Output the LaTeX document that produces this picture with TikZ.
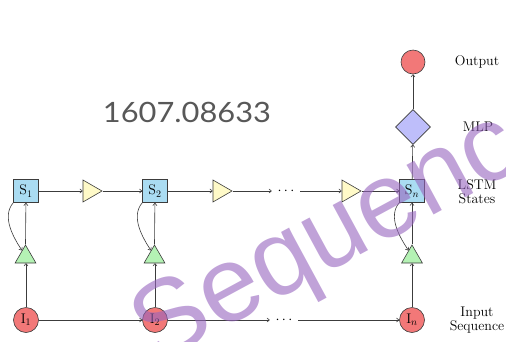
\documentclass[tikz,border=0pt]{standalone}
\usepackage{fontspec}
\newfontfamily\titlefont{Lato}
\newfontfamily\wmfont{Liberation Sans}
\usetikzlibrary{shapes.geometric,calc,arrows.meta}
\definecolor{boxblue}{RGB}{170,220,242}
\definecolor{inred}{RGB}{242,120,120}
\definecolor{gfill}{RGB}{180,242,180}
\definecolor{yfill}{RGB}{255,250,200}
\definecolor{mfill}{RGB}{190,190,250}
\definecolor{edge}{RGB}{60,60,60}
\definecolor{titlegray}{RGB}{88,88,88}
\definecolor{wmpurple}{RGB}{150,100,190}
\begin{document}
\begin{tikzpicture}[x=1pt,y=-1pt,
  every node/.style={line width=0.6pt, draw=edge},
  stbox/.style={rectangle, fill=boxblue, minimum width=25pt, minimum height=23pt, inner sep=0pt, font=\fontsize{14}{16}\selectfont},
  inp/.style={circle, fill=inred, minimum size=25pt, inner sep=0pt, font=\fontsize{14}{16}\selectfont},
  gtri/.style={regular polygon, regular polygon sides=3, minimum size=24pt, inner sep=0pt, fill=gfill},
  ytri/.style={regular polygon, regular polygon sides=3, regular polygon rotate=-90, minimum size=25.4pt, inner sep=0pt, fill=yfill},
  mlpnode/.style={diamond, fill=mfill, minimum width=35pt, minimum height=35pt, inner sep=0pt},
  outnode/.style={circle, fill=inred, minimum size=24pt, inner sep=0pt},
  dotsnode/.style={draw=none, inner sep=2pt, minimum width=28pt, font=\fontsize{14}{16}\selectfont},
  lbl/.style={draw=none, align=center, font=\fontsize{14}{16}\selectfont},
  conn/.style={draw=edge, line width=0.6pt, -{To[length=3pt,width=4.5pt]}}
]
\useasboundingbox (0,0) rectangle (506,341);

% states
\node[stbox] (S1) at (26,191) {S$_1$};
\node[stbox] (S2) at (155,191) {S$_2$};
\node[stbox] (Sn) at (412,191) {S$_n$};
% inputs
\node[inp] (I1) at (26,320) {I$_1$};
\node[inp] (I2) at (155,320) {I$_2$};
\node[inp] (In) at (412,320) {I$_n$};
% green triangles
\node[gtri] (G1) at (25.5,257) {};
\node[gtri] (G2) at (154.5,257) {};
\node[gtri] (Gn) at (412,257) {};
% yellow triangles
\node[ytri] (Y1) at (89.3,191) {};
\node[ytri] (Y2) at (219.3,191) {};
\node[ytri] (Y3) at (348.3,191) {};
% dots
\node[dotsnode] (D1) at (286,191) {$\cdots$};
\node[dotsnode] (D2) at (284,320) {$\cdots$};
% MLP and output
\node[mlpnode] (M) at (413,127) {};
\node[outnode] (O) at (413,62) {};

% labels
\node[lbl] (LO) at (477,62) {Output};
\node[lbl] (LM) at (478,127) {MLP};
\node[lbl] (LS) at (477,192) {LSTM\\[-2pt]States};
\node[lbl] (LI) at (477,320) {Input\\[-2pt]Sequence};

% top chain
\draw[conn] (S1) -- (Y1);
\draw[conn] (Y1) -- (S2);
\draw[conn] (S2) -- (Y2);
\draw[conn] (Y2) -- (D1);
\draw[conn] (D1) -- (Y3);
\draw[conn] (Y3) -- (Sn);
% bottom chain
\draw[conn] (I1) -- (I2);
\draw[conn] (I2) -- (D2);
\draw[conn] (D2) -- (In);
% verticals
\draw[conn] (I1) -- (I1 |- G1.corner 2);
\draw[conn] (G1.corner 1) -- (S1);
\draw[conn] (I2) -- (I2 |- G2.corner 2);
\draw[conn] (G2.corner 1) -- (S2);
\draw[conn] (In) -- (In |- Gn.corner 2);
\draw[conn] (Gn.corner 1) -- (Sn);
% recurrent curves
\draw[conn] (S1.south west) .. controls +(-12,14) and +(-8,-12) .. ($(G1.corner 1)!0.32!(G1.corner 2)$);
\draw[conn] (S2.south west) .. controls +(-12,14) and +(-8,-12) .. ($(G2.corner 1)!0.32!(G2.corner 2)$);
\draw[conn] (Sn.south west) .. controls +(-12,14) and +(-8,-12) .. ($(Gn.corner 1)!0.32!(Gn.corner 2)$);
% up to MLP / output
\draw[conn] (Sn) -- (M);
\draw[conn] (M) -- (O);

% title
\node[draw=none, text=titlegray, font=\titlefont\fontsize{28}{30}\selectfont, xscale=1.1] (T) at (187,112) {1607.08633};

% watermark
\node[draw=none, text=wmpurple, opacity=0.6, font=\wmfont\fontsize{107}{107}\selectfont, rotate=28.4, anchor=base west, inner sep=0pt] (W) at (155,366) {Sequence};
\end{tikzpicture}
\end{document}
